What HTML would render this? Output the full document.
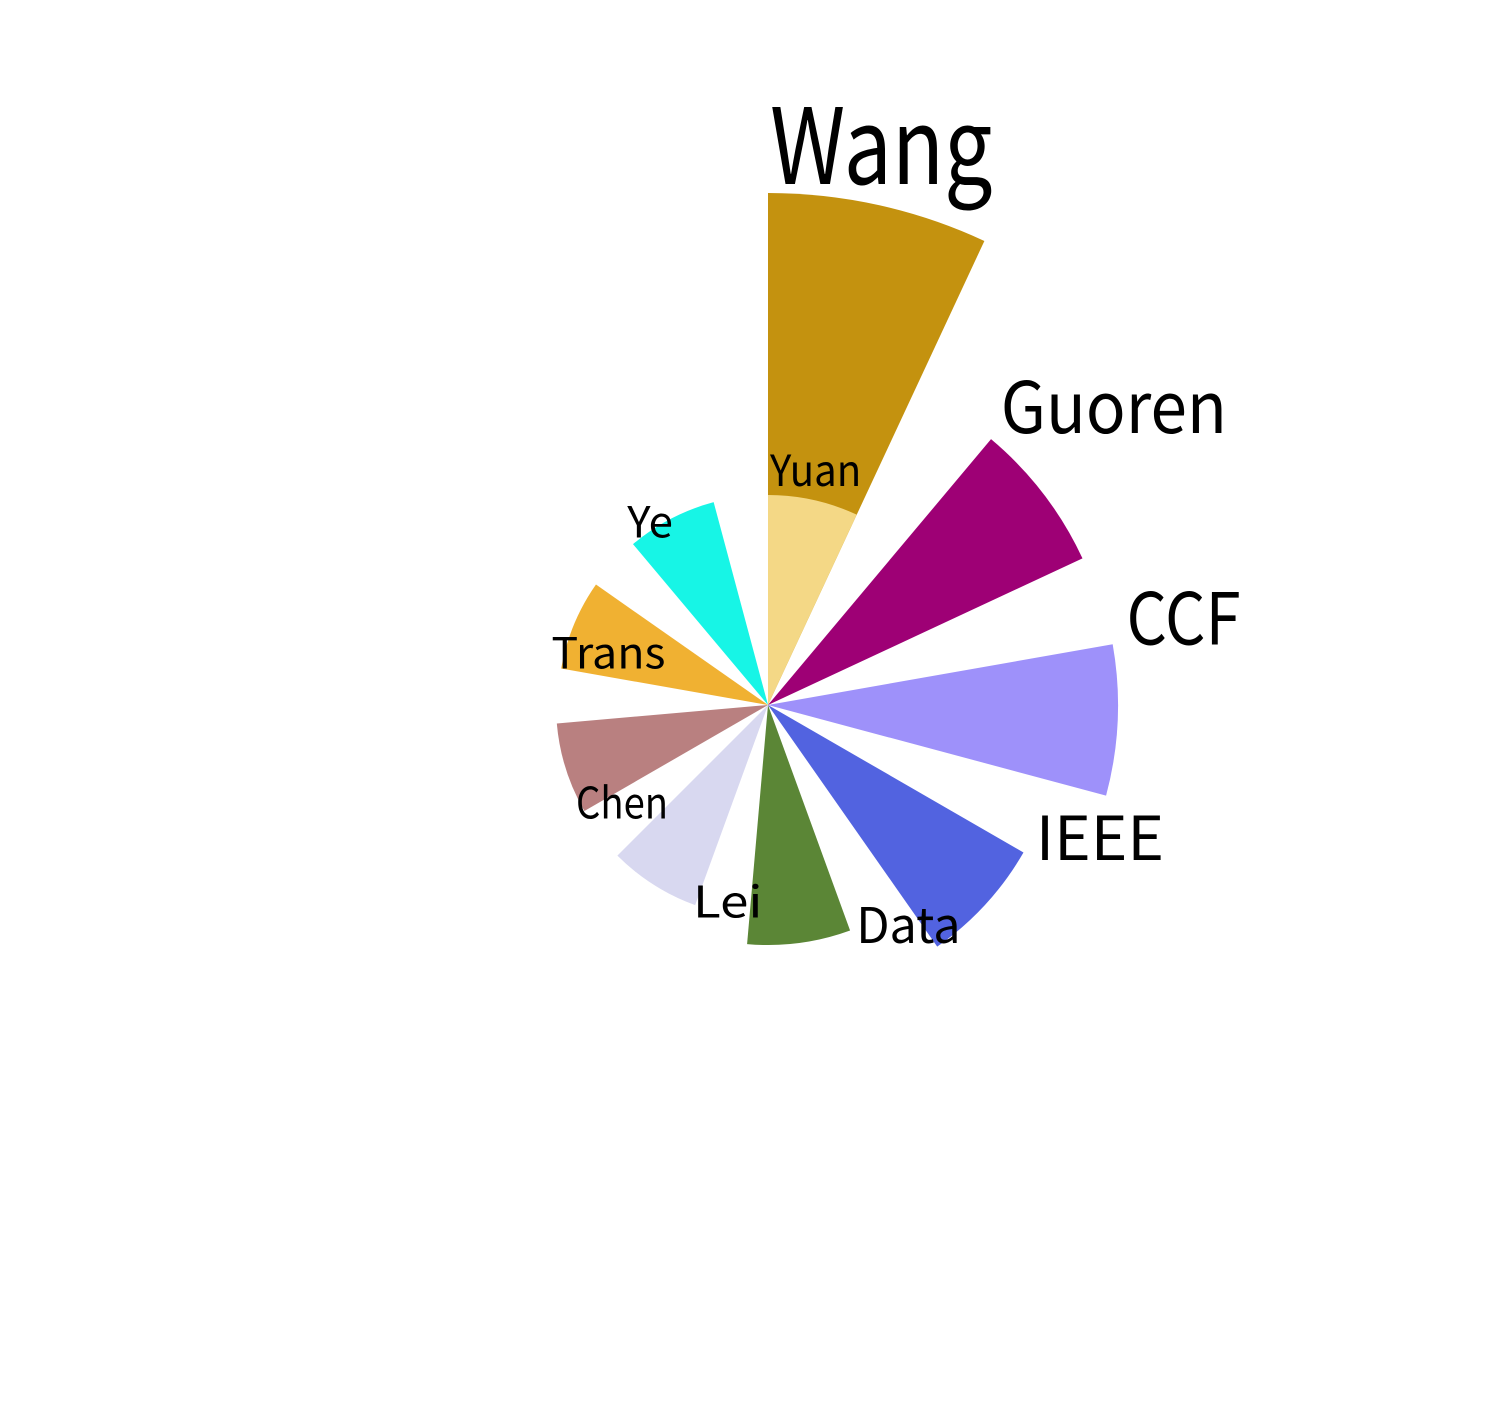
<!DOCTYPE html>
<html><head><meta charset="utf-8"><style>
html,body{margin:0;padding:0;background:#fff;}
svg text{font-family:"WenQuanYi Zen Hei","WenQuanYi Zen Hei Mono","Noto Sans CJK SC","Liberation Sans",sans-serif;fill:#000;}
</style></head><body>
<svg id="chart" width="1500" height="1400" viewBox="0 0 1500 1400" xmlns="http://www.w3.org/2000/svg">
<rect width="1500" height="1400" fill="#fff"/>
<g id="wedges"></g>
<g id="labels"></g>
</svg>
<script>
const categories = ["Wang","Yuan","Guoren","CCF","IEEE","Data","Lei","Chen","Trans","Ye"];
const values = [512,210,347,350,295,240,213,212,210,210];
const slots = [0,0,1,2,3,4,5,6,7,8];
const colors = ["#c4920f","#f4d886","#9e0075","#9e91fa","#5263e0","#5b8636","#d8d8f0","#b98080","#f0b132","#17f5e6"];

const cx = 768, cy = 705, step = 40, width = 25;
function ang(slot){ return slot*step; }
function rad(v){ return v; }
function pt(deg, r){ const a = deg*Math.PI/180; return [cx + r*Math.sin(a), cy - r*Math.cos(a)]; }

const gW = document.getElementById('wedges');
const gL = document.getElementById('labels');
const NS = "http://www.w3.org/2000/svg";
for (let i = 0; i < categories.length; i++) {
  const a0 = ang(slots[i]), a1 = a0 + width, r = rad(values[i]);
  const p0 = pt(a0, r), p1 = pt(a1, r);
  const path = document.createElementNS(NS, 'path');
  path.setAttribute('d', `M${cx},${cy} L${p0[0]},${p0[1]} A${r},${r} 0 0 1 ${p1[0]},${p1[1]} Z`);
  path.setAttribute('fill', colors[i]);
  
  
  gW.appendChild(path);

  const fs = values[i] * 0.205;
  const ar = a0*Math.PI/180;
  const t = document.createElementNS(NS, 'text');
  t.setAttribute('x', p0[0] + 12*Math.sin(ar) + 2);
  t.setAttribute('y', p0[1] - 11*Math.cos(ar) + 2);
  t.setAttribute('font-size', fs.toFixed(1));
  t.setAttribute('textLength', (categories[i].length * fs * 0.53).toFixed(1));
  t.setAttribute('lengthAdjust', 'spacingAndGlyphs');
  t.textContent = categories[i];
  
  
  gL.appendChild(t);
}
</script>
</body></html>
